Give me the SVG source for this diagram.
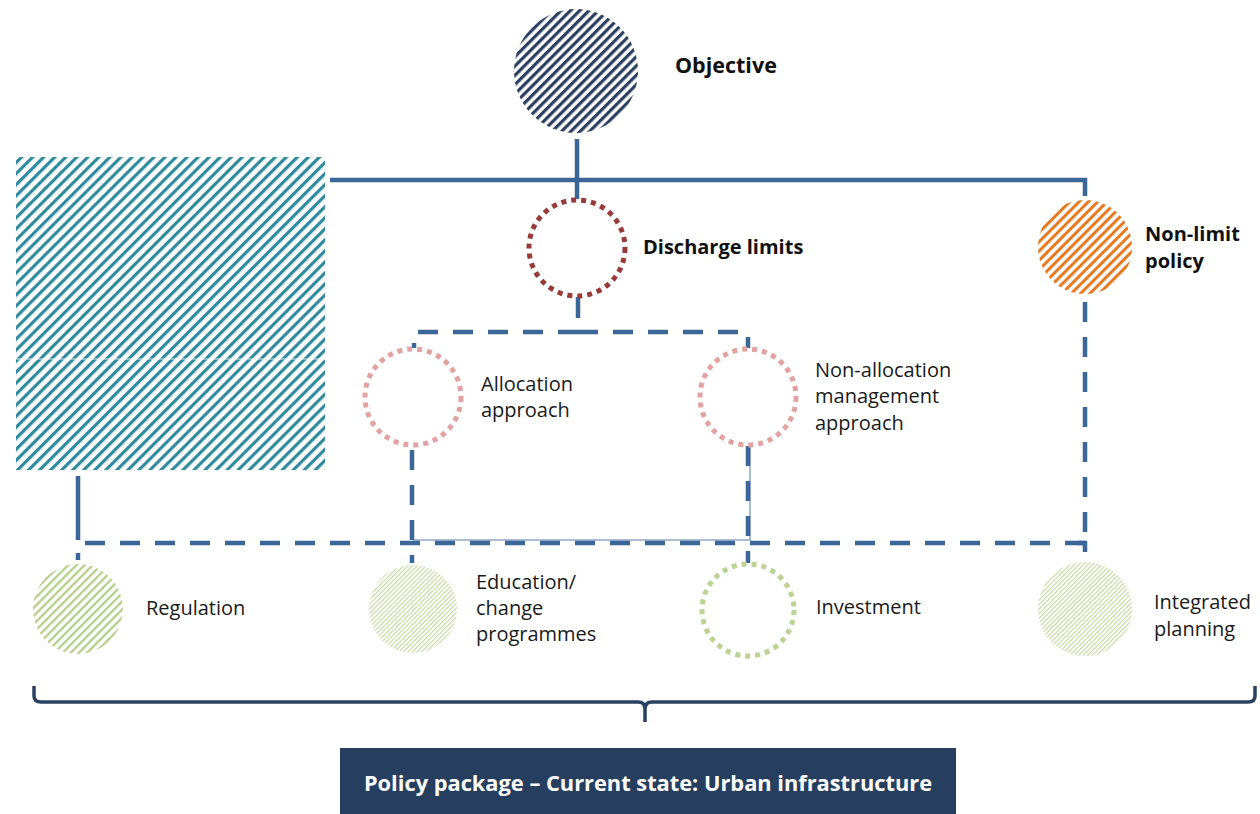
<svg xmlns="http://www.w3.org/2000/svg" width="1260" height="814" viewBox="0 0 1260 814">
<defs>
<pattern id="hObj" patternUnits="userSpaceOnUse" width="6.6" height="6.6" patternTransform="rotate(45)"><rect x="0" y="0" width="3.2" height="6.6" fill="#2c3f5f"/></pattern>
<pattern id="hTeal" patternUnits="userSpaceOnUse" width="7.8" height="7.8" patternTransform="rotate(45)"><rect x="0" y="0" width="3.2" height="7.8" fill="#2f8a9b"/></pattern>
<pattern id="hOrange" patternUnits="userSpaceOnUse" width="6.6" height="6.6" patternTransform="rotate(45)"><rect x="0" y="0" width="3" height="6.6" fill="#e8781f"/></pattern>
<pattern id="hGreen" patternUnits="userSpaceOnUse" width="5.8" height="5.8" patternTransform="rotate(45)"><rect x="0" y="0" width="2.4" height="5.8" fill="#b7cf8c"/></pattern>
<pattern id="hFine" patternUnits="userSpaceOnUse" width="3.2" height="3.2" patternTransform="rotate(45)"><rect x="0" y="0" width="1.2" height="3.2" fill="#c5d9a3"/></pattern>
</defs>
<style>
.lbl{font-family:"Open Sans","Liberation Sans",sans-serif;font-size:20px;fill:#1a1a1a}
.bold{font-family:"Open Sans","Liberation Sans",sans-serif;font-size:20px;font-weight:bold;fill:#111}
.solid{fill:none;stroke:#3b6698;stroke-width:4.5}
.dash{fill:none;stroke:#3b6698;stroke-width:4.5;stroke-dasharray:20 15}
.thin{fill:none;stroke:#8fa8c8;stroke-width:1.5}
.dots{fill:#fff;stroke-width:5;stroke-dasharray:5 5}
</style>
<rect width="1260" height="814" fill="#fff"/>
<g id="connectors">
<path class="solid" d="M330,180 H1085 V196"/>
<path class="solid" d="M577,139 V199"/>
<path class="solid" d="M578,297 V318"/>
<path class="dash" d="M578,332 H414 V348"/>
<path class="dash" d="M578,332 H748 V348"/>
<path class="thin" d="M413,540 H750 V446"/>
<path class="dash" d="M412,450 V563"/>
<path class="dash" d="M748,446 V563"/>
<path class="solid" d="M78,476 V540"/>
<path class="dash" d="M85,543 H1085"/>
<path class="solid" d="M1078,543 H1085 V552"/>
<path class="dash" d="M78,553 V560"/>
<path class="dash" d="M1085,302 V538"/>
<path fill="none" stroke="#2a4161" stroke-width="3.5" d="M34,686 V696 Q34,702 41,702 H638 Q645,702 645,709 V722 M645,709 Q645,702 652,702 H1248 Q1255,702 1255,696 V686"/>
</g>
<g id="objective">
<circle cx="576" cy="71" r="62" fill="url(#hObj)"/>
<text class="bold" x="675" y="73" style="font-size:21.5px">Objective</text>
</g>
<g id="left-box">
<rect x="16" y="157" width="309" height="313" fill="url(#hTeal)"/>
<line x1="16" y1="359" x2="325" y2="359" stroke="#fff" stroke-width="1.2" opacity="0.8"/>
</g>
<g id="discharge-limits">
<circle class="dots" cx="577" cy="248" r="48" stroke="#983a3a"/>
<text class="bold" x="643" y="254">Discharge limits</text>
</g>
<g id="non-limit-policy">
<circle cx="1085" cy="247" r="47" fill="url(#hOrange)"/>
<text class="bold" x="1145" y="241">Non-limit</text>
<text class="bold" x="1145" y="268">policy</text>
</g>
<g id="allocation">
<circle class="dots" cx="413" cy="397" r="48" stroke="#e2a2a2"/>
<text class="lbl" x="481" y="391">Allocation</text>
<text class="lbl" x="481" y="417">approach</text>
</g>
<g id="non-allocation">
<circle class="dots" cx="748" cy="397" r="48" stroke="#e2a2a2"/>
<text class="lbl" x="815" y="377">Non-allocation</text>
<text class="lbl" x="815" y="403">management</text>
<text class="lbl" x="815" y="430">approach</text>
</g>
<g id="regulation">
<circle cx="78" cy="609" r="45" fill="url(#hGreen)"/>
<text class="lbl" x="146" y="615">Regulation</text>
</g>
<g id="education">
<circle cx="413" cy="609" r="44" fill="url(#hFine)"/>
<text class="lbl" x="476" y="589">Education/</text>
<text class="lbl" x="476" y="615">change</text>
<text class="lbl" x="476" y="641">programmes</text>
</g>
<g id="investment">
<circle class="dots" cx="748" cy="610" r="46" stroke="#bcd394"/>
<text class="lbl" x="816" y="614">Investment</text>
</g>
<g id="integrated-planning">
<circle cx="1085" cy="609" r="47" fill="url(#hFine)"/>
<text class="lbl" x="1154" y="609">Integrated</text>
<text class="lbl" x="1154" y="636">planning</text>
</g>
<g id="policy-package">
<rect x="340" y="748" width="616" height="66" fill="#263f5f"/>
<text x="648" y="791" text-anchor="middle" style="font-family:'Open Sans','Liberation Sans',sans-serif;font-size:21.8px;font-weight:bold;fill:#fff">Policy package – Current state: Urban infrastructure</text>
</g>
</svg>
